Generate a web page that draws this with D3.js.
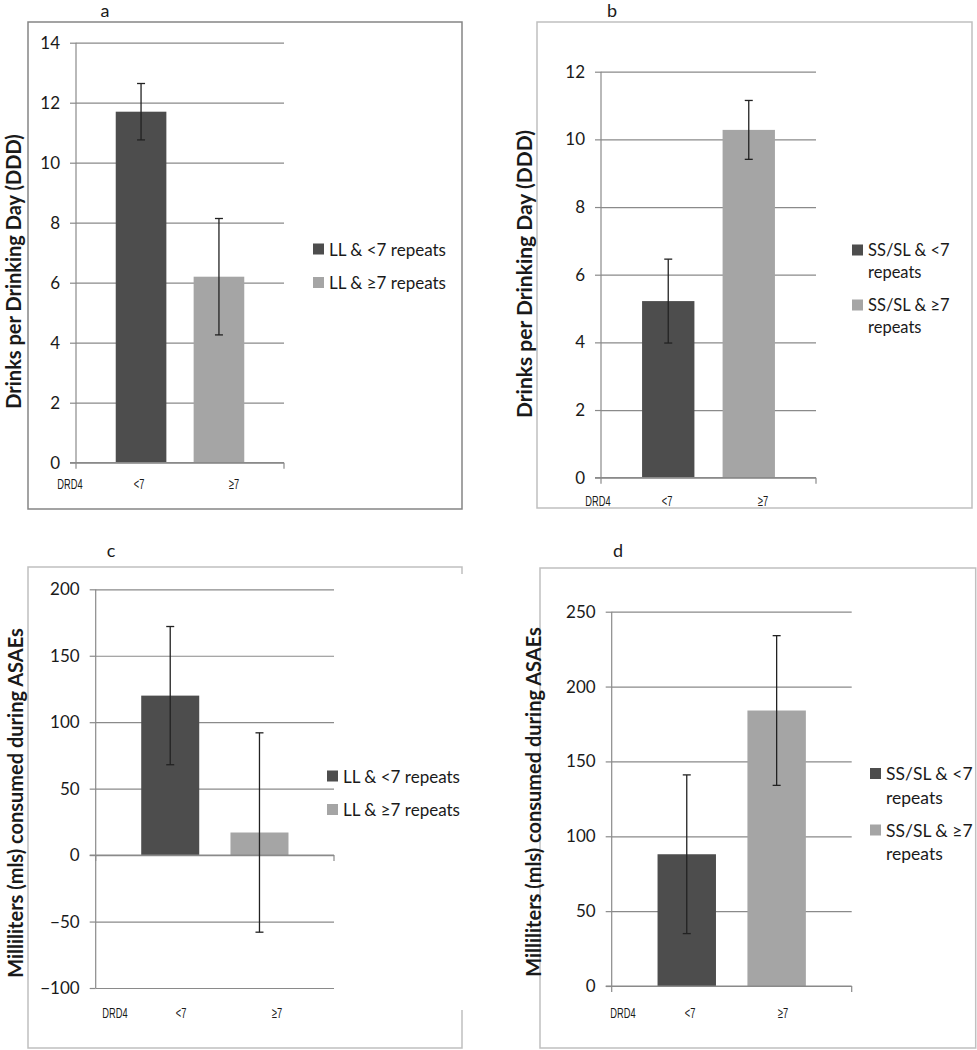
<!DOCTYPE html>
<html><head><meta charset="utf-8">
<script src="https://cdn.jsdelivr.net/npm/d3@7/dist/d3.min.js"></script>
<style>
body{margin:0;background:#fff;}
svg{display:block;}
text{font-family:Lato,"Open Sans",sans-serif;fill:#1a1a1a;}
</style></head>
<body>
<svg id="chart" width="977" height="1050"></svg>
<script>
// ---- data ----
const categories = ["<7", "≥7"];
const xGroupLabel = "DRD4";
const panelLetters = ["a", "b", "c", "d"];
const meansA = [11.7, 6.2];
const errA = [0.94, 1.94];
const meansB = [5.22, 10.28];
const errB = [1.24, 0.87];
const meansC = [120, 17];
const errC = [52, 75];
const meansD = [88, 184];
const errD = [53, 50];
const ticksA = [0, 2, 4, 6, 8, 10, 12, 14];
const ticksB = [0, 2, 4, 6, 8, 10, 12];
const ticksC = [-100, -50, 0, 50, 100, 150, 200];
const ticksD = [0, 50, 100, 150, 200, 250];
const legendLL = ["LL & <7 repeats", "LL & ≥7 repeats"];
const legendSS = [["SS/SL & <7", "repeats"], ["SS/SL & ≥7", "repeats"]];
const yTitleDDD = "Drinks per Drinking Day (DDD)";
const yTitleML = "Milliliters (mls) consumed during ASAEs";
const barColors = ["#4d4d4d", "#a5a5a5"];

const svg = d3.select("#chart");

function drawPanel(p) {
  const g = svg.append("g");
  // frame
  g.append("path")
    .attr("d", p.framePath)
    .attr("fill", "none").attr("stroke", p.frameColor).attr("stroke-width", 1.5);
  // letter
  g.append("text").attr("x", p.letterX).attr("y", p.letterY)
    .attr("text-anchor", "middle").style("font-size", "18px").text(p.letter);

  const y = d3.scaleLinear().domain(p.domain).range([p.bottom, p.top]);
  const x = d3.scaleBand().domain(categories).range([p.left, p.right])
    .paddingInner(0.35).paddingOuter(0.51);

  // gridlines
  g.append("g").attr("transform", `translate(${p.left},0)`)
    .call(d3.axisLeft(y).tickValues(p.ticks).tickSize(-(p.right - p.left)).tickFormat(""))
    .call(s => s.select(".domain").remove())
    .call(s => s.selectAll("line").attr("stroke", "#8a8a8a").attr("stroke-width", 1.2));
  // y axis
  g.append("g").attr("transform", `translate(${p.left},0)`)
    .call(d3.axisLeft(y).tickValues(p.ticks).tickSize(6).tickPadding(10))
    .call(s => s.select(".domain").attr("stroke", "#8a8a8a").attr("stroke-width", 1.2)
      .attr("d", `M0,${p.top}V${p.bottom}`))
    .call(s => s.selectAll("line").attr("stroke", "#8a8a8a").attr("stroke-width", 1.2))
    .call(s => s.selectAll("text").style("font-size", p.tickFont + "px")
      .style("font-family", "Lato,sans-serif").attr("fill", "#1a1a1a"));

  // bars
  g.selectAll("rect.bar").data(p.means).join("rect").attr("class", "bar")
    .attr("x", (d, i) => x(categories[i]))
    .attr("width", x.bandwidth())
    .attr("y", d => Math.min(y(d), y(0)))
    .attr("height", d => Math.abs(y(0) - y(d)))
    .attr("fill", (d, i) => barColors[i]);

  // x axis baseline at zero with end ticks
  g.append("line").attr("x1", p.left - 6).attr("x2", p.right)
    .attr("y1", y(0)).attr("y2", y(0)).attr("stroke", "#8a8a8a").attr("stroke-width", 1.2);
  if (p.endTicks) {
    [p.left, p.right].forEach(xx => g.append("line").attr("x1", xx).attr("x2", xx)
      .attr("y1", y(0)).attr("y2", y(0) + 6).attr("stroke", "#8a8a8a").attr("stroke-width", 1.2));
  }

  // error bars
  const eb = g.selectAll("g.eb").data(p.means).join("g").attr("class", "eb");
  eb.each(function (d, i) {
    const cx = x(categories[i]) + x.bandwidth() / 2;
    const e = p.errs[i];
    const s = d3.select(this);
    s.append("line").attr("x1", cx).attr("x2", cx).attr("y1", y(d + e)).attr("y2", y(d - e));
    s.append("line").attr("x1", cx - 4).attr("x2", cx + 4).attr("y1", y(d + e)).attr("y2", y(d + e));
    s.append("line").attr("x1", cx - 4).attr("x2", cx + 4).attr("y1", y(d - e)).attr("y2", y(d - e));
    s.selectAll("line").attr("stroke", "#222").attr("stroke-width", 1.3);
  });

  // x labels (condensed)
  const xl = [{t: xGroupLabel, x: p.drdX}, {t: categories[0], x: p.cat0X}, {t: categories[1], x: p.cat1X}];
  xl.forEach(o => {
    g.append("text").attr("transform", `translate(${o.x},${p.xLabelY}) scale(0.62,1)`)
      .attr("text-anchor", "middle").attr("dominant-baseline", "central")
      .style("font-size", "15px").style("font-family", "'Liberation Sans',sans-serif").text(o.t);
  });

  // y title
  g.append("text").attr("transform", `translate(${p.titleX},${p.titleY}) rotate(-90)`)
    .attr("text-anchor", "middle").attr("dominant-baseline", "central")
    .style("font-size", p.titleFont + "px").style("font-weight", "bold").text(p.yTitle);

  // legend
  p.legend.forEach((lines, i) => {
    const ly = p.legendY[i];
    g.append("rect").attr("x", p.legendX).attr("y", ly - 5.5).attr("width", 11).attr("height", 11)
      .attr("fill", barColors[i]);
    const arr = Array.isArray(lines) ? lines : [lines];
    arr.forEach((t, j) => {
      g.append("text").attr("x", p.legendX + 16).attr("y", ly + j * p.legendLine)
        .attr("dominant-baseline", "central").style("font-size", p.legendFont + "px").text(t);
    });
  });
}

drawPanel({
  letter: panelLetters[0], letterX: 105, letterY: 17,
  framePath: "M28,22H462V509H28Z", frameColor: "#858585",
  domain: [0, 14], ticks: ticksA, top: 42.7, bottom: 462.7, left: 76, right: 284,
  means: meansA, errs: errA, tickFont: 17, endTicks: true,
  drdX: 70, cat0X: 139, cat1X: 234, xLabelY: 484,
  yTitle: yTitleDDD, titleX: 12.5, titleY: 271.5, titleFont: 20,
  legend: legendLL, legendX: 313, legendY: [249, 282.5], legendLine: 0, legendFont: 17
});
drawPanel({
  letter: panelLetters[1], letterX: 612, letterY: 17,
  framePath: "M537,22H972V508H537Z", frameColor: "#c0c0c0",
  domain: [0, 12], ticks: ticksB, top: 71.7, bottom: 477.7, left: 601, right: 816,
  means: meansB, errs: errB, tickFont: 17, endTicks: true,
  drdX: 598, cat0X: 667, cat1X: 763, xLabelY: 501,
  yTitle: yTitleDDD, titleX: 523.5, titleY: 274, titleFont: 21,
  legend: legendSS, legendX: 852, legendY: [250, 305], legendLine: 22, legendFont: 16.5
});
drawPanel({
  letter: panelLetters[2], letterX: 111, letterY: 557,
  framePath: "M462,574V567H28V1048H462V1010", frameColor: "#c0c0c0",
  domain: [-100, 200], ticks: ticksC, top: 589.3, bottom: 988, left: 95.7, right: 334,
  means: meansC, errs: errC, tickFont: 17, endTicks: true,
  drdX: 115, cat0X: 181, cat1X: 277, xLabelY: 1013,
  yTitle: yTitleML, titleX: 14.5, titleY: 803, titleFont: 20,
  legend: legendLL, legendX: 327, legendY: [776, 809.5], legendLine: 0, legendFont: 17
});
drawPanel({
  letter: panelLetters[3], letterX: 618, letterY: 557,
  framePath: "M540,568H975.7V1048H540Z", frameColor: "#c0c0c0",
  domain: [0, 250], ticks: ticksD, top: 611.7, bottom: 986, left: 611.7, right: 851.7,
  means: meansD, errs: errD, tickFont: 17, endTicks: true,
  drdX: 623, cat0X: 690, cat1X: 783, xLabelY: 1013,
  yTitle: yTitleML, titleX: 532.5, titleY: 802, titleFont: 20,
  legend: legendSS, legendX: 870, legendY: [773.5, 830], legendLine: 23.5, legendFont: 17.5
});
</script>
</body></html>
